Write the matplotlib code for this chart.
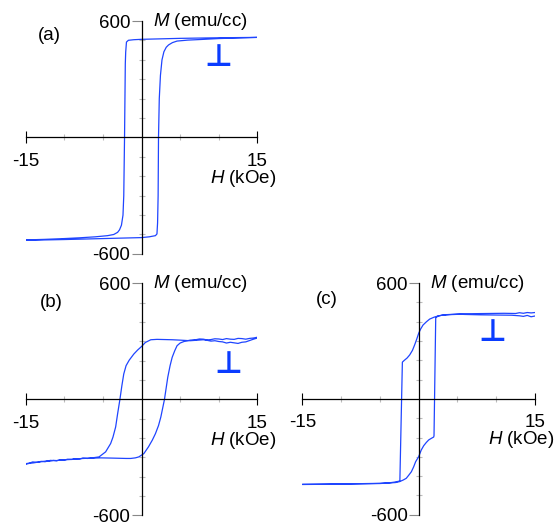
import numpy as np
import matplotlib
matplotlib.use("Agg")
import matplotlib.pyplot as plt

plt.rcParams['font.family'] = ['Liberation Sans', 'DejaVu Sans']
plt.rcParams['mathtext.fontset'] = 'custom'
plt.rcParams['mathtext.it'] = 'Liberation Sans:italic'
plt.rcParams['mathtext.rm'] = 'Liberation Sans'

# panel (a): branch from +15 down to -15, then back up
a_H_down = [15, 10, 5, 2, 0, -1, -1.7, -1.95, -2.05, -2.1, -2.2, -2.3, -2.4, -2.6, -2.85,
            -3.1, -3.6, -4.4, -6, -8, -10, -12.5, -15]
a_M_down = [516, 514, 511, 508, 506, 504, 501, 492, 440, 380, 0, -300, -400, -452, -476,
            -489, -500, -506, -512, -517, -521, -525, -528]
a_H_up = [-15, -10, -5, 0, 1, 1.8, 2.0, 2.08, 2.15, 2.2, 2.3, 2.45, 2.65, 2.9, 3.2, 3.5,
          4.0, 4.6, 6, 7.6, 10, 15]
a_M_up = [-530, -526, -521, -516, -512, -506, -497, -440, -300, 0, 200, 320, 400, 442, 465, 477,
          489, 497, 502, 505, 510, 516]

# panel (b)
b_H_down = [15, 14.5, 14, 13.5, 13, 12.5, 12, 11.5, 11, 10.5, 10, 9.5, 9, 8.5, 8, 7, 6.3, 5, 4,
            3, 2, 1.2, 0.5, 0, -0.5, -1.0, -1.6, -2.0, -2.3, -2.55, -2.8, -3.1, -3.35, -3.7,
            -4.0, -4.65, -5.5, -6.2, -7, -7.6, -8, -8.7, -9, -9.6, -10, -10.5, -11, -11.8,
            -12.5, -13, -13.5, -14.1, -14.5, -15]
b_M_down = [318, 312, 305, 298, 296, 290, 293, 296, 292, 298, 300, 304, 302, 306, 309, 306, 304,
            307, 309, 310, 311, 309, 295, 274, 256, 235, 203, 175, 132, 70, 0, -75, -142, -195,
            -228, -271, -297, -301, -305, -303, -308, -306, -310, -309, -314, -312, -317, -315,
            -322, -320, -325, -323, -329, -332]
b_H_up = [-15, -14.5, -14, -13.4, -13, -12.3, -12, -11.4, -11, -10.4, -10, -9, -8, -7, -6, -5.3,
          -4, -3, -2, -1.4, -0.8, -0.35, 0.3, 0.9, 1.4, 1.8, 2.2, 2.5, 2.97, 3.4, 3.7, 3.97,
          4.3, 4.6, 5.0, 5.5, 6.3, 7, 7.5, 8, 8.5, 9, 9.5, 10, 10.5, 11, 11.5, 12, 12.5, 13,
          13.5, 14, 14.5, 15]
b_M_up = [-335, -330, -328, -324, -322, -318, -320, -315, -316, -313, -312, -310, -306, -304,
          -303, -302, -303, -304, -305, -305, -302, -297, -280, -245, -210, -177, -135, -91, 0,
          115, 175, 218, 252, 278, 292, 300, 307, 309, 313, 312, 308, 310, 314, 313, 310, 315,
          312, 311, 316, 315, 312, 316, 318, 322]

# panel (c)
c_H_down = [15, 14.5, 14, 13.5, 13, 12, 10, 8, 6, 5.3, 4, 3, 2.5, 2.0, 1.42, 1.0, 0.56, 0.25, 0,
            -0.25, -0.52, -0.8, -1.16, -1.5, -1.8, -2.05, -2.1, -2.42, -2.45, -3, -3.7, -5, -8,
            -10, -12, -15]
c_M_down = [430, 426, 433, 428, 431, 434, 435, 436, 438, 439, 437, 434, 430, 424, 414, 400, 383,
            362, 340, 310, 280, 252, 228, 212, 202, 193, 190, -420, -425, -430, -434, -437, -439,
            -440, -441, -442]
c_H_up = [-15, -10, -5, -3, -2.45, -2.0, -1.6, -1.3, -0.94, -0.65, -0.39, 0, 0.34, 0.65, 0.99,
          1.3, 1.63, 1.94, 1.98, 2.2, 2.5, 3.0, 3.6, 5, 7, 9, 11, 12.5, 13, 13.5, 14, 14.5, 15]
c_M_up = [-443, -441, -438, -433, -428, -420, -411, -396, -377, -352, -325, -299, -264, -242,
          -225, -212, -204, -197, -190, 420, 430, 434, 437, 440, 442, 443, 444, 443, 447, 444,
          448, 446, 448]

panels = [
    ('(a)', a_H_down + a_H_up, a_M_down + a_M_up, [0.0464, 0.5136, 0.4181, 0.446], (-11.9, 526), (9.97, 410)),
    ('(b)', b_H_down + b_H_up, b_M_down + b_M_up, [0.0464, 0.0125, 0.4181, 0.4444], (-11.7, 500), (11.3, 183)),
    ('(c)', c_H_down + c_H_up, c_M_down + c_M_up, [0.5457, 0.0138, 0.42, 0.4437], (-11.8, 518), (9.55, 347)),
]

fig = plt.figure(figsize=(5.54, 5.22), dpi=100)

for tag, H, M, rect, tagpos, perppos in panels:
    ax = fig.add_axes(rect)
    ax.plot(H, M, color='#1f45ff', lw=0.9)
    ax.set_xlim(-15, 15)
    ax.set_ylim(-600, 600)
    ax.patch.set_visible(False)

    ax.spines['left'].set_position(('data', 0))
    ax.spines['bottom'].set_position(('data', 0))
    ax.spines['top'].set_visible(False)
    ax.spines['right'].set_visible(False)
    for s in ['left', 'bottom']:
        ax.spines[s].set_linewidth(0.9)

    ax.set_xticks([-15, 15])
    ax.set_xticklabels(['-15', '15'])
    ax.set_xticks([-10, -5, 5, 10], minor=True)
    ax.set_yticks([-600, 600])
    ax.set_yticklabels(['-600', '600'])
    ax.set_yticks([v for v in range(-600, 601, 100) if v != 0], minor=True)

    ax.tick_params(axis='x', which='major', direction='inout', length=8, width=0.8,
                   color='black', pad=7, labelsize=13.5)
    ax.tick_params(axis='x', which='minor', direction='inout', length=5, width=0.8,
                   color='#bbbbbb')
    ax.tick_params(axis='y', which='major', direction='out', length=7, width=0.8,
                   color='#888888', pad=1, labelsize=13.5)
    ax.tick_params(axis='y', which='minor', direction='inout', length=5, width=0.8,
                   color='#bbbbbb')

    ax.text(1.5, 600, '$M$ (emu/cc)', fontsize=13.5, ha='left', va='center', clip_on=False)
    ax.text(8.9, -212, '$H$ (kOe)', fontsize=13.5, ha='left', va='center', clip_on=False)
    ax.text(tagpos[0], tagpos[1], tag, fontsize=13.5, ha='center', va='center')
    ax.text(perppos[0], perppos[1], '\u22a5', fontsize=22, fontweight='bold',
            color='#0a3cff', ha='center', va='center', family='DejaVu Sans')

fig.savefig('out.png', dpi=100)
